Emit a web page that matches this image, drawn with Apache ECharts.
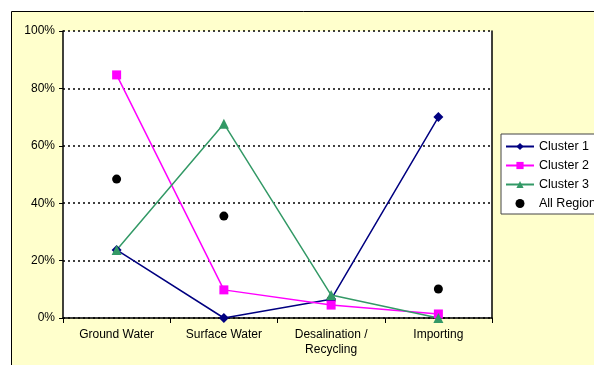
<!DOCTYPE html>
<html><head><meta charset="utf-8">
<script src="https://cdn.jsdelivr.net/npm/echarts@6/dist/echarts.min.js"></script>
<style>html,body{margin:0;padding:0;background:#fff}#c{width:594px;height:365px}</style>
</head><body><div id="c"></div>
<script>
var categories = ['Ground Water', 'Surface Water', 'Desalination /\nRecycling', 'Importing'];
var cluster1 = [0.237, 0.0, 0.065, 0.70];
var cluster2 = [0.847, 0.098, 0.045, 0.014];
var cluster3 = [0.237, 0.677, 0.08, 0.0];
var allRegions = [0.484, 0.355, 0.063, 0.101];
var yTicks = [0, 0.2, 0.4, 0.6, 0.8, 1.0];

var chart = echarts.init(document.getElementById('c'), null, {renderer: 'canvas'});
var font = 'Liberation Sans, Arial, sans-serif';
function lineSeries(name, data, color, symbol, size) {
  return {
    name: name, type: 'line', data: data, symbol: symbol, symbolSize: size,
    lineStyle: {color: color, width: 1.5}, itemStyle: {color: color, opacity: 1},
    xAxisIndex: 0, yAxisIndex: 0, animation: false
  };
}
chart.setOption({
  animation: false,
  graphic: [{
    type: 'rect', z: -10, silent: true,
    shape: {x: 11.5, y: 11.5, width: 700, height: 500},
    style: {fill: '#FFFFCC', stroke: '#000', lineWidth: 1}
  }],
  grid: {left: 63, top: 31, width: 429, height: 287, show: true, backgroundColor: '#fff', borderWidth: 0},
  legend: {
    left: 501, top: 134, orient: 'vertical', itemGap: 6, itemWidth: 28, itemHeight: 9,
    padding: [6, 5, 4, 4], borderColor: '#444', borderWidth: 1, backgroundColor: '#fff',
    textStyle: {fontFamily: font, fontSize: 12.5, color: '#000'},
    data: ['Cluster 1', 'Cluster 2', 'Cluster 3', 'All Regions']
  },
  xAxis: {
    type: 'category', data: categories, boundaryGap: true,
    axisLine: {lineStyle: {color: '#000', width: 1.5}},
    axisTick: {show: true, length: 5, lineStyle: {color: '#000'}},
    axisLabel: {fontFamily: font, fontSize: 12, color: '#000', margin: 9, lineHeight: 15, interval: 0},
    splitLine: {show: false}
  },
  yAxis: [{
    type: 'value', min: 0, max: 1, interval: 0.2,
    axisLine: {show: true, lineStyle: {color: '#000', width: 1.5}},
    axisTick: {show: true, length: 4, lineStyle: {color: '#000'}},
    axisLabel: {fontFamily: font, fontSize: 12, color: '#000', margin: 8,
      formatter: function (v) { return Math.round(v * 100) + '%'; }},
    splitLine: {show: true, lineStyle: {color: '#000', type: [2, 3], width: 1.5}}
  }, {
    type: 'value', min: 0, max: 1, interval: 0.2, position: 'right',
    axisLine: {show: true, lineStyle: {color: '#000', width: 1.5}},
    axisTick: {show: false}, axisLabel: {show: false}, splitLine: {show: false}
  }],
  series: [
    lineSeries('Cluster 1', cluster1, '#000080', 'diamond', 10),
    lineSeries('Cluster 2', cluster2, '#FF00FF', 'rect', 9),
    lineSeries('Cluster 3', cluster3, '#339966', 'triangle', 10),
    {name: 'All Regions', type: 'scatter', data: allRegions, symbol: 'circle', symbolSize: 9,
     itemStyle: {color: '#000', opacity: 1}, xAxisIndex: 0, yAxisIndex: 0}
  ]
});
</script></body></html>
